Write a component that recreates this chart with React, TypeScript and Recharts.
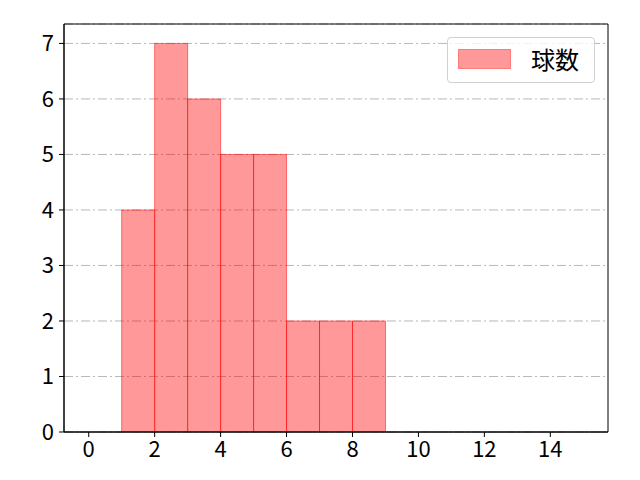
import React from "react";
import { ComposedChart, Bar, XAxis, YAxis, CartesianGrid, Legend, ReferenceArea } from "recharts";

const binCenters = [1.5, 2.5, 3.5, 4.5, 5.5, 6.5, 7.5, 8.5];
const counts = [4, 7, 6, 5, 5, 2, 2, 2];
const xTicks = [0, 2, 4, 6, 8, 10, 12, 14];
const yTicks = [0, 1, 2, 3, 4, 5, 6, 7];
const xDomain = [-0.75, 15.75];
const yDomain = [0, 7.35];
const seriesName = "球数";

const data = binCenters.map((x, i) => ({ x, count: counts[i] }));

const FONT = "'Noto Sans CJK JP', 'Noto Sans', sans-serif";

const LegendBox = () => (
  <div
    style={{
      width: 148,
      height: 46,
      border: "1px solid #d0d0d0",
      borderRadius: 4,
      background: "rgba(255,255,255,0.8)",
      position: "relative",
      boxSizing: "border-box",
      fontFamily: FONT,
    }}
  >
    <div
      style={{
        position: "absolute",
        left: 10,
        top: 11,
        width: 53,
        height: 20,
        background: "#ff9999",
        border: "1px solid #ff7a7a",
        boxSizing: "border-box",
      }}
    />
    <div style={{ position: "absolute", left: 83, top: 4, fontSize: 24, lineHeight: "34px", color: "#000", whiteSpace: "nowrap" }}>
      {seriesName}
    </div>
  </div>
);

export default function App() {
  return (
    <div style={{ position: "absolute", left: 0, top: 0, width: 640, height: 480, background: "#fff" }}>
      <ComposedChart
        width={640}
        height={480}
        data={data}
        margin={{ top: 24, right: 32, bottom: 0, left: 0 }}
        barCategoryGap={0}
        barGap={0}
      >
        <CartesianGrid vertical={false} stroke="#b0b0b0" strokeDasharray="9 3 2 3" strokeWidth={0.9} />
        <XAxis
          dataKey="x"
          type="number"
          domain={xDomain}
          ticks={xTicks}
          allowDataOverflow
          height={48}
          tickSize={5}
          tickMargin={4}
          stroke="#000"
          tick={{ fill: "#000", fontSize: 22, fontFamily: FONT }}
          tickLine={{ stroke: "#000" }}
          axisLine={{ stroke: "#000" }}
          interval={0}
        />
        <YAxis
          type="number"
          domain={yDomain}
          ticks={yTicks}
          allowDataOverflow
          width={64}
          tickSize={5}
          tickMargin={5}
          tick={{ fill: "#000", fontSize: 22, fontFamily: FONT }}
          tickLine={{ stroke: "#000" }}
          axisLine={{ stroke: "#000" }}
          interval={0}
        />
        <Bar
          dataKey="count"
          name={seriesName}
          fill="#ff0000"
          fillOpacity={0.4}
          stroke="#ff0000"
          strokeOpacity={0.5}
          strokeWidth={1}
          isAnimationActive={false}
        />
        <ReferenceArea
          x1={xDomain[0]}
          x2={xDomain[1]}
          y1={yDomain[0]}
          y2={yDomain[1]}
          fill="none"
          fillOpacity={0}
          stroke="#000"
          strokeWidth={1}
          ifOverflow="extendDomain"
        />
        <Legend
          layout="horizontal"
          verticalAlign="middle"
          align="center"
          wrapperStyle={{ position: "absolute", left: 447, top: 37, width: 148, height: 46 }}
          content={() => <LegendBox />}
        />
      </ComposedChart>
    </div>
  );
}
